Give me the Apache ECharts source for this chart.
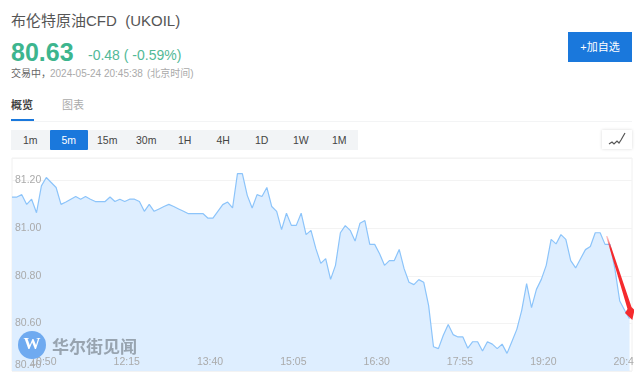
<!DOCTYPE html>
<html><head><meta charset="utf-8">
<script src="https://cdn.jsdelivr.net/npm/echarts@6/dist/echarts.min.js"></script>
<style>
html,body{margin:0;padding:0;background:#fff;width:640px;height:375px;overflow:hidden;font-family:"Liberation Sans","Noto Sans CJK SC",sans-serif}
.a{position:absolute;white-space:pre;line-height:1}
#chart{position:absolute;left:0;top:0;width:634px;height:375px;overflow:hidden}
.btn{position:absolute;top:130px;height:20px;width:38.5px;text-align:center;line-height:20px;font-size:10.5px;color:#444}
</style></head><body>
<div class="a" style="left:11px;top:13px;font-size:15px;color:#555">布伦特原油CFD  (UKOIL)</div>
<div class="a" style="left:11px;top:40px;font-size:25px;font-weight:bold;color:#3db58e">80.63</div>
<div class="a" style="left:88px;top:48px;font-size:14px;color:#52b997">-0.48 ( -0.59%)</div>
<div class="a" style="left:11px;top:69px;font-size:10px;color:#666">交易中，</div>
<div class="a" style="left:50px;top:69px;font-size:10px;color:#aaa">2024-05-24 20:45:38</div>
<div class="a" style="left:147px;top:69px;font-size:10px;color:#aaa">(北京时间)</div>
<div class="a" style="left:11px;top:100px;font-size:11px;font-weight:bold;color:#444">概览</div>
<div class="a" style="left:62px;top:100px;font-size:11px;color:#aaa">图表</div>
<div class="a" style="left:11px;top:119px;width:23px;height:2px;background:#1a78dc"></div>
<div class="a" style="left:11px;top:121px;width:621px;height:1px;background:#f3f4f5"></div>
<div class="a" style="left:11px;top:130px;width:347px;height:20px;background:#f2f4f6"></div>
<div class="btn" style="left:11px">1m</div>
<div class="btn" style="left:49.5px;background:#1a78dc;color:#fff;border-radius:1px">5m</div>
<div class="btn" style="left:88px">15m</div>
<div class="btn" style="left:127px">30m</div>
<div class="btn" style="left:165.5px">1H</div>
<div class="btn" style="left:204px">4H</div>
<div class="btn" style="left:242.5px">1D</div>
<div class="btn" style="left:281.5px">1W</div>
<div class="btn" style="left:320px">1M</div>
<div class="a" style="left:568px;top:32px;width:64px;height:30px;background:#1a78dc;color:#fff;font-size:11px;line-height:30px;text-align:center">+加自选</div>
<div class="a" style="left:602px;top:130px;width:30px;height:19px;background:#fff;box-shadow:0 0 3px rgba(0,0,0,.15)"><svg width="30" height="19" style="display:block"><polyline points="7,14 10,12 12,14 15,11 17,13 19,10 23,3" fill="none" stroke="#555" stroke-width="1.2"/></svg></div>
<div id="chart"></div>
<script>
const startTime = '10:20';
const stepMinutes = 5;
const xTickLabels = ['10:50','12:15','13:40','15:05','16:30','17:55','19:20','20:45'];
const yTickLabels = [80.4,80.6,80.8,81.0,81.2];
const prices = [
81.131,81.131,81.141,81.100,81.122,81.065,81.178,81.213,81.192,81.171,
81.100,81.110,81.122,81.133,81.122,81.133,81.122,81.112,81.112,81.112,
81.131,81.112,81.122,81.112,81.122,81.122,81.112,81.071,81.100,81.071,
81.081,81.091,81.100,81.091,81.081,81.071,81.061,81.061,81.061,81.061,
81.042,81.042,81.071,81.099,81.110,81.085,81.229,81.229,81.138,81.085,
81.141,81.133,81.171,81.091,81.071,80.994,81.063,81.012,81.012,81.063,
80.973,80.991,80.914,80.852,80.872,80.785,80.844,80.981,81.011,80.991,
80.946,81.021,81.032,80.932,80.932,80.893,80.844,80.864,80.864,80.911,
80.830,80.773,80.763,80.784,80.773,80.676,80.502,80.494,80.550,80.595,
80.553,80.543,80.543,80.496,80.523,80.523,80.484,80.523,80.513,80.494,
80.513,80.474,80.524,80.575,80.655,80.767,80.666,80.743,80.785,80.844,
80.953,80.934,80.973,80.953,80.864,80.833,80.872,80.910,80.923,80.981,
80.981,80.932,80.932,80.830,80.694,80.655,80.620];

const toMin = s => { const p = s.split(':'); return +p[0]*60 + +p[1]; };
const start = toMin(startTime);
const fmtTime = m => { const t = start + m; return String(Math.floor(t/60)).padStart(2,'0') + ':' + String(t%60).padStart(2,'0'); };
const seriesData = prices.map((v,i) => [i*stepMinutes, v]);

const chart = echarts.init(document.getElementById('chart'), null, {renderer:'canvas'});
chart.setOption({
  animation:false,
  grid:{left:12,right:2,top:158,bottom:4,show:true,borderColor:'#f0f0f0',borderWidth:1,backgroundColor:'transparent',outerBoundsMode:'none'},
  xAxis:{type:'value',min:0,max:126.5*stepMinutes,z:5,
    axisLine:{show:false},axisTick:{show:false},splitLine:{show:false},
    axisLabel:{inside:true,margin:3,color:'#aaa',fontSize:10.5,fontFamily:'Liberation Sans',padding:[0,0,0,4],hideOverlap:false,
      customValues:xTickLabels.map(s=>toMin(s)-start),formatter:v=>fmtTime(v)}},
  yAxis:[
   {type:'value',min:80.4,max:81.295,interval:0.2,z:0,
    axisLine:{show:false},axisTick:{show:false},axisLabel:{show:false},
    splitLine:{show:true,lineStyle:{color:'#f3f3f3',width:1}}},
   {type:'value',min:80.4,max:81.295,interval:0.2,z:5,position:'left',
    axisLine:{show:false},axisTick:{show:false},splitLine:{show:false},
    axisLabel:{inside:true,margin:3,color:'#aaa',fontSize:10.5,fontFamily:'Liberation Sans',
      verticalAlignMinLabel:'bottom',
      customValues:yTickLabels,formatter:v=>v.toFixed(2)}}],
  series:[{type:'line',data:seriesData,yAxisIndex:0,symbol:'none',smooth:false,z:1,
    lineStyle:{color:'#8cc4fa',width:1.2},
    areaStyle:{color:'#deeeff',opacity:1}}],
  graphic:[
    {type:'circle',shape:{cx:32,cy:345,r:14},style:{fill:'#6faaf0'},z:20},
    {type:'text',x:32,y:345,style:{text:'W',fill:'#fff',font:'bold 17px "Liberation Serif"',textAlign:'center',textVerticalAlign:'middle'},z:21},
    {type:'text',x:52,y:347,style:{text:'华尔街见闻',fill:'#98a4b0',font:'bold 17px "Noto Sans CJK SC"',textVerticalAlign:'middle'},z:21},
    {type:'polygon',shape:{points:[[606,236],[607.5,236],[631.5,307],[634.5,310],[632.3,320],[625,313],[627.5,309]]},
      style:{fill:{type:'linear',global:true,x:607,y:236,x2:632,y2:320,colorStops:[{offset:0,color:'rgba(250,90,90,0.3)'},{offset:0.15,color:'#f52a2d'},{offset:1,color:'#f52a2d'}]}},z:22}
  ]
});
</script>
</body></html>
